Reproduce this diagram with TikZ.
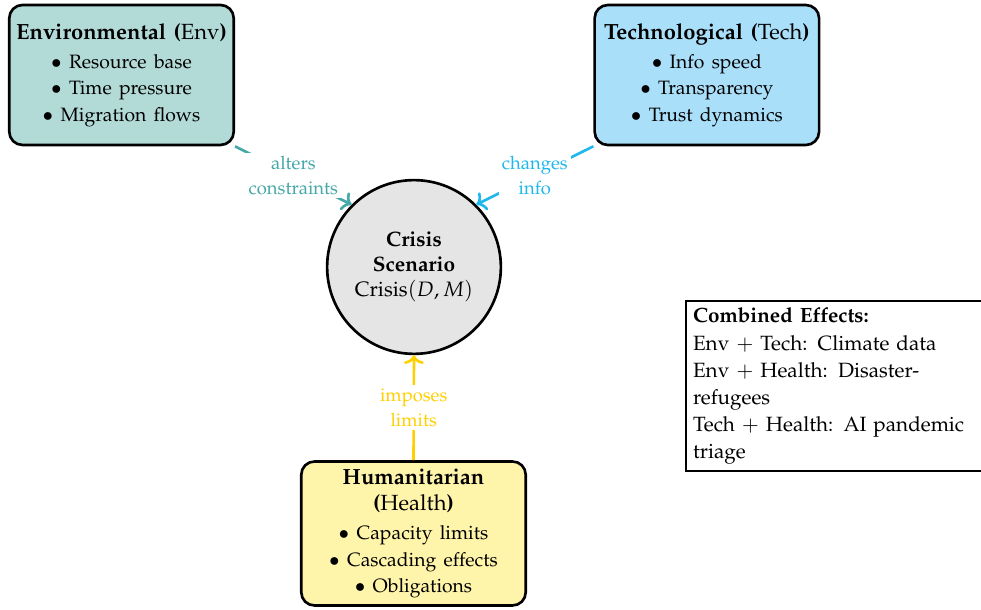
\documentclass[tikz,border=0pt]{standalone}
\usepackage[T1]{fontenc}
\usepackage{mathpazo}
\usetikzlibrary{arrows.meta}
\definecolor{envline}{RGB}{70,168,168}
\definecolor{envfill}{RGB}{178,219,216}
\definecolor{techline}{RGB}{30,184,236}
\definecolor{techfill}{RGB}{170,223,250}
\definecolor{healthline}{RGB}{255,208,0}
\definecolor{healthfill}{RGB}{255,245,170}
\newcommand{\itemsize}{\fontsize{8.8}{12.2}\selectfont}
\begin{document}
\begin{tikzpicture}
		[box/.style={rectangle,rounded corners=6pt,draw=black,very thick,
align=center,text width=3.45cm,inner xsep=2pt,minimum width=3.57cm,minimum height=2.24cm},
		envbox/.style={box,fill=envfill},
		techbox/.style={box,fill=techfill},
		healthbox/.style={box,fill=healthfill},
		core/.style={circle,draw=black,very thick,fill=gray!20,font=\fontsize{9.5}{11.5}\selectfont,
align=center,inner sep=0pt,minimum size=2.78cm},
		notebox/.style={rectangle,draw=black,thick,align=left,text width=4.6cm,
font=\fontsize{9.4}{12.3}\selectfont},
		label/.style={fill=white,align=center,inner sep=1.5pt,font=\fontsize{8.4}{11.5}\selectfont},
		link/.style={-{To[length=4pt,width=9pt]},very thick}]
		\useasboundingbox (0,0) rectangle (15.696,9.76);
		\node at (6.624, 5.488) (crisis) [core] {\textbf{Crisis}\\\textbf{Scenario}\\$\mathrm{Crisis}(D,M)$};
		\node at (1.944, 8.56) (env) [envbox] {\textbf{Environmental ($\mathrm{Env}$)}\\[1pt]
\itemsize $\bullet$ Resource base\\$\bullet$ Time pressure\\$\bullet$ Migration flows};
		\node at (11.31, 8.56) (tech) [techbox] {\textbf{Technological ($\mathrm{Tech}$)}\\[1pt]
\itemsize $\bullet$ Info speed\\$\bullet$ Transparency\\$\bullet$ Trust dynamics};
		\node at (6.616, 1.224) (health) [healthbox] {\textbf{Humanitarian ($\mathrm{Health}$)}\\[1pt]
\itemsize $\bullet$ Capacity limits\\$\bullet$ Cascading effects\\$\bullet$ Obligations};
		\node at (13.39, 3.584) (combined) [notebox] {\textbf{Combined Effects:}\\
Env $+$ Tech: Climate data\\
Env $+$ Health: Disaster-refugees\\
Tech $+$ Health: AI pandemic triage};
		\draw [link,envline] (env.south east) -- node[label,text=envline] {alters\\constraints} (crisis.north west);
		\draw [link,techline] (tech.south west) -- node[label,text=techline] {changes\\info} (crisis.north east);
		\draw [link,healthline] (health.north) -- node[label,text=healthline] {imposes\\limits} (crisis.south);
	\end{tikzpicture}
\end{document}
